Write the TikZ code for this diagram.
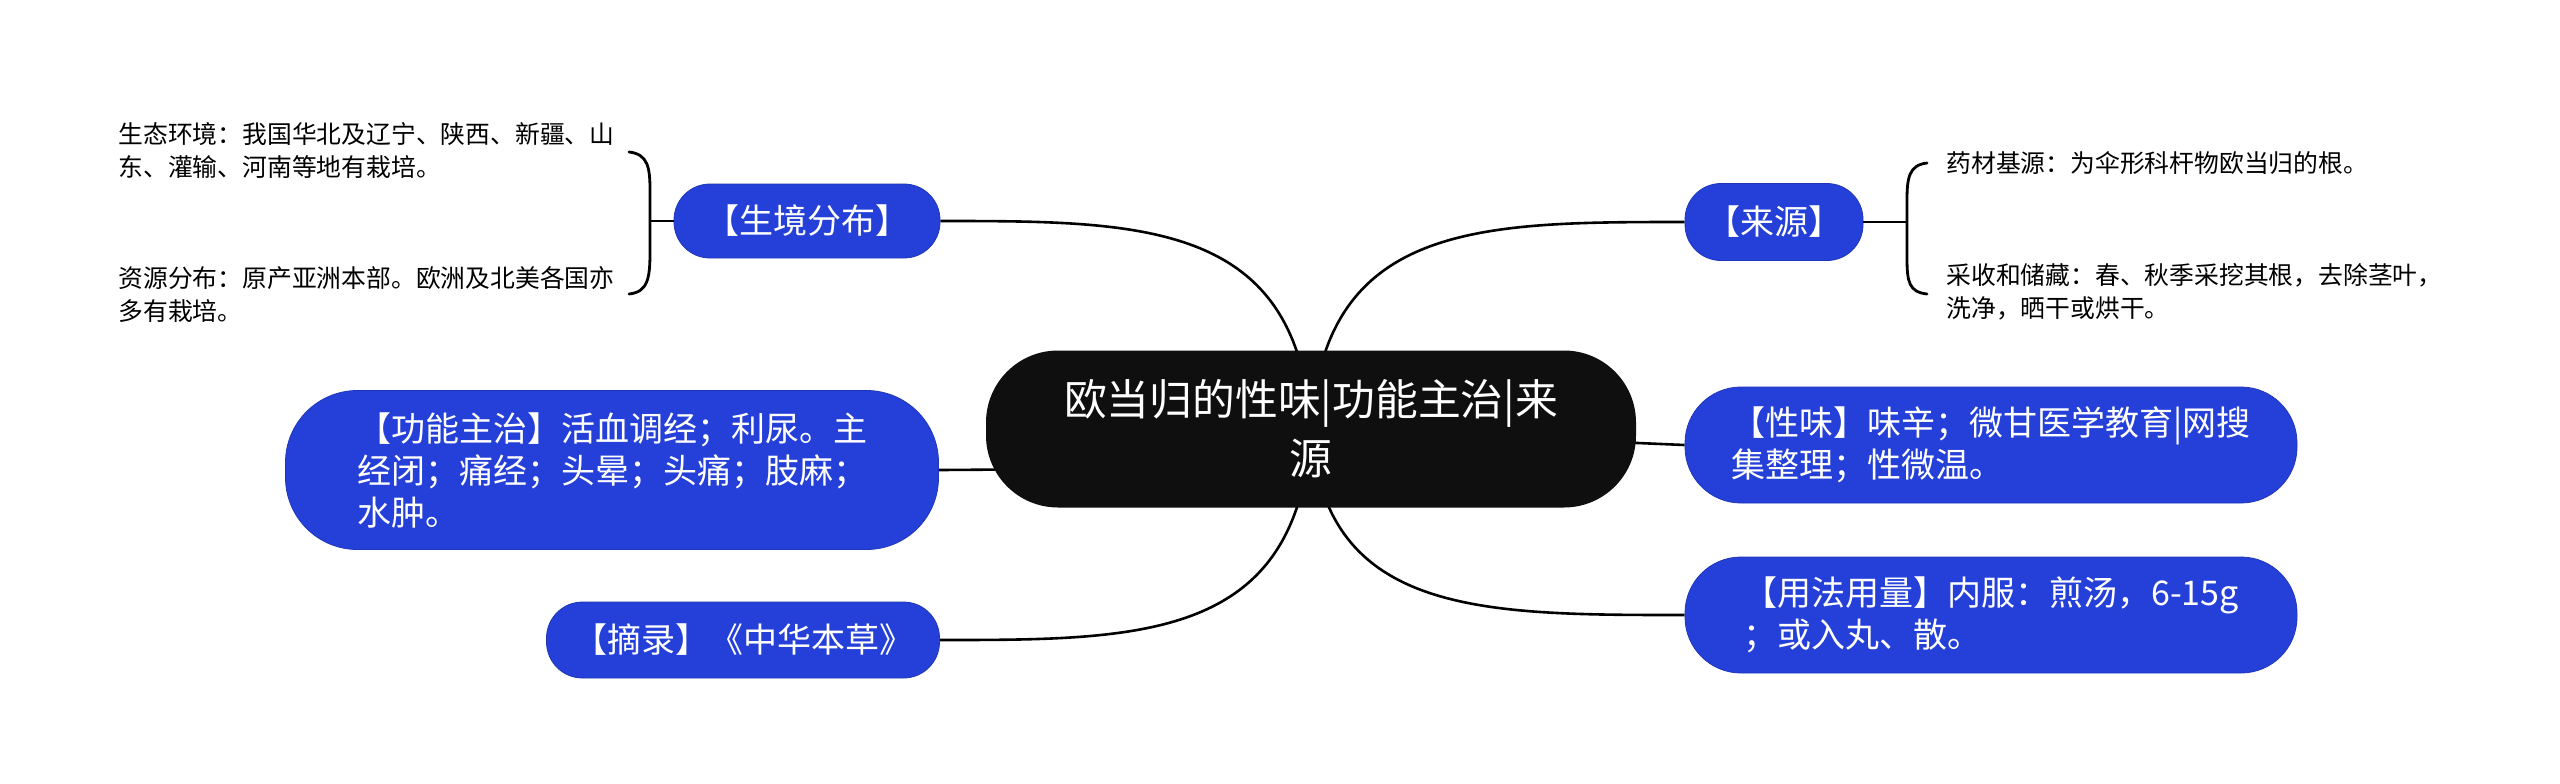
\documentclass[tikz,border=0pt]{standalone}
\usepackage{fontspec}
\setmainfont{Noto Sans CJK SC}
\usetikzlibrary{backgrounds}
\definecolor{nodeblue}{RGB}{37,64,216}
\definecolor{rootblack}{RGB}{15,15,15}
\begin{document}
\begin{tikzpicture}[x=0.5pt,y=-0.5pt,
  pill/.style={fill=nodeblue, draw=nodeblue!85!black, line width=0.4pt, text=white,
    font=\fontsize{17}{21}\selectfont, align=left, inner sep=0pt},
  rootbox/.style={fill=rootblack, text=white, font=\fontsize{21.4}{29.5}\selectfont,
    align=center, inner sep=0pt, rounded corners=36pt},
  leaf/.style={font=\fontsize{12.4}{16.5}\selectfont, align=left, inner sep=0pt, anchor=west},
  conn/.style={draw=black, line width=1.3pt},
  brace/.style={draw=black, line width=1.4pt, line cap=round}]
\useasboundingbox (0,0) rectangle (2560,783);

% central node
\node[rootbox, minimum width=325pt, minimum height=78.5pt] (root) at (1311,429)
  {欧当归的性味|功能主治|来\\源};

% main branches
\node[pill, rounded corners=18pt, minimum width=133pt, minimum height=37pt] (habitat) at (807,221) {【生境分布】};
\node[pill, rounded corners=18pt, minimum width=89pt, minimum height=38.5pt] (source) at (1774,222) {【来源】};
\node[pill, rounded corners=36pt, minimum width=326.5pt, minimum height=79.5pt] (func) at (612,470)
  {【功能主治】活血调经；利尿。主\\经闭；痛经；头晕；头痛；肢麻；\\水肿。};
\node[pill, rounded corners=18pt, minimum width=196.5pt, minimum height=38pt] (excerpt) at (743,640) {【摘录】《中华本草》};
\node[pill, rounded corners=28pt, minimum width=306pt, minimum height=58pt] (taste) at (1991,445)
  {【性味】味辛；微甘医学教育|网搜\\集整理；性微温。};
\node[pill, rounded corners=28pt, minimum width=306pt, minimum height=58pt] (usage) at (1991,615)
  {【用法用量】内服：煎汤，6-15g\\；或入丸、散。};

% leaves
\node[leaf] (eco) at (118,150) {生态环境：我国华北及辽宁、陕西、新疆、山\\东、灌输、河南等地有栽培。};
\node[leaf] (dist) at (118,294) {资源分布：原产亚洲本部。欧洲及北美各国亦\\多有栽培。};
\node[leaf] (origin) at (1946,163) {药材基源：为伞形科杆物欧当归的根。};
\node[leaf] (harvest) at (1946,292) {采收和储藏：春、秋季采挖其根，去除茎叶，\\洗净，晒干或烘干。};

% brackets
\coordinate (lbT) at (629,152);
\coordinate (lbB) at (629,294);
\coordinate (lbM) at (650,221);
\coordinate (rbT) at (1927,163);
\coordinate (rbB) at (1927,294);
\coordinate (rbM) at (1907,222);
\draw[brace] (lbT) .. controls (648,154) and (650,168) .. (650,190) -- (650,252) .. controls (650,278) and (648,292) .. (lbB);
\draw[brace] (rbT) .. controls (1909,165) and (1907,178) .. (1907,200) -- (1907,258) .. controls (1907,282) and (1909,292) .. (rbB);
\draw[conn] (lbM) -- (habitat.west);
\draw[conn] (source.east) -- (rbM);

% background and connectors from root
\begin{scope}[on background layer]
\fill[white] (0,0) rectangle (2560,783);
\draw[conn] (root.center) .. controls (1298,221) and (1143,221) .. (habitat.east);
\draw[conn] (root.center) .. controls (1324,222) and (1480,222) .. (source.west);
\draw[conn] (root.center) .. controls (1100,469) .. (func.east);
\draw[conn] (root.center) -- (taste.west);
\draw[conn] (root.center) .. controls (1298,640) and (1143,640) .. (excerpt.east);
\draw[conn] (root.center) .. controls (1324,615) and (1480,615) .. (usage.west);
\end{scope}
\end{tikzpicture}
\end{document}
